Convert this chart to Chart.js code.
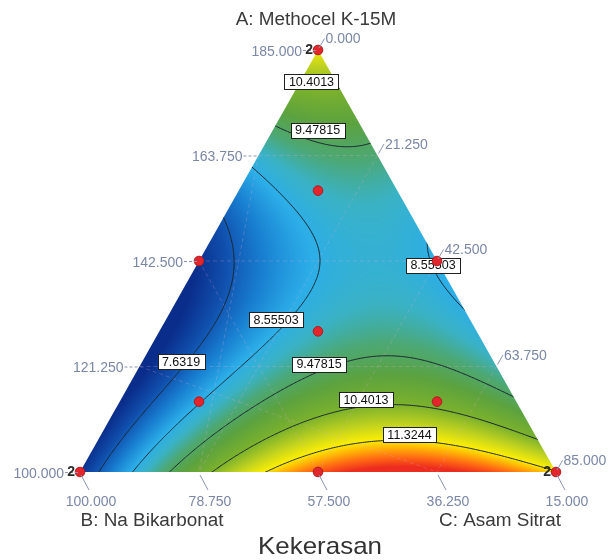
<!DOCTYPE html>
<html>
<head>
<meta charset="utf-8">
<script src="https://cdn.jsdelivr.net/npm/chart.js@4.4.1/dist/chart.umd.min.js"></script>
<style>
  html, body { margin: 0; padding: 0; background: #fff; }
  #wrap { width: 610px; height: 560px; }
</style>
</head>
<body>
<div id="wrap"><canvas id="chart" width="610" height="560"></canvas></div>
<script>
// Kekerasan, mixture of A + B + C = 200
const levels = [7.6319, 8.55503, 9.47815, 10.4013, 11.3244];

const designA = [185, 100, 100, 142.5, 142.5, 100, 128.33, 156.67, 114.17, 114.17];
const designB = [15, 100, 15, 57.5, 15, 57.5, 43.33, 29.17, 71.67, 29.17];
const designC = [0, 0, 85, 0, 42.5, 42.5, 28.33, 14.17, 14.17, 56.67];
const replicates = [2, 2, 2, 1, 1, 1, 1, 1, 1, 1];

const ticksA = [100, 121.25, 142.5, 163.75, 185];
const ticksB = [100, 78.75, 57.5, 36.25, 15];
const ticksC = [0, 21.25, 42.5, 63.75, 85];

// contour crossings, [A, C] (B = 200 - A - C)
const trace7632 = [[152.8, 0], [144.7, 3.7], [136.7, 7.6], [131.2, 9.7], [124.6, 9.1], [118.5, 7.7], [113.5, 6.6], [105.4, 5.3], [100, 4.5]];
const trace8555 = [[160.4, 0.1], [154.2, 10.4], [147.7, 18.6], [143.7, 21.5], [138.7, 22.6], [132.6, 22.4], [128.6, 20.5], [121.6, 17.8], [113.7, 14.2], [106.4, 11.1], [100, 8.0], [147.3, 37.7], [135.2, 49.8]];
const trace9478 = [[169.5, 0.1], [168.3, 5.1], [166.9, 9.9], [166.3, 15.1], [165.7, 19.3], [100, 16.1], [104.4, 17.4], [110.5, 21.5], [115.5, 26.2], [119.5, 29.5], [122.2, 36.2], [123.2, 42.0], [122.2, 49.6], [119.9, 57.9], [115.9, 69.1]];
const trace10401 = [[176.9, 0.1], [176.3, 4.7], [176.1, 8.7], [100, 23.2], [105.8, 31.0], [111.9, 38.7], [112.9, 45.3], [113.5, 54.0], [111.5, 62.1], [109.1, 70.5], [105.8, 79.2]];
const trace11324 = [[100, 33.4], [102.0, 38.3], [103.8, 42.7], [106.0, 51.1], [105.8, 59.6], [105.0, 65.3], [103.4, 73.3], [101.8, 79.4], [100.6, 83.3]];

// spot readings from the colour scale
const spotA = [185, 100, 100, 142.5, 121.25, 100, 100, 100, 142.5, 128.33, 156.67, 114.17, 130.6, 148.7];
const spotC = [0, 0, 85, 0, 0, 42.5, 55, 70, 42.5, 28.33, 14.17, 56.67, 4.3, 31.0];
const spotY = [11.1, 7.15, 11.4, 7.0, 7.05, 12.15, 12.35, 12.15, 8.5, 9.0, 8.85, 10.35, 7.1, 8.7];

// where the boxed level labels sit (chart units)
const labelSpots = [
    [10.4013, 0.4863, 0.9254],
    [9.47815, 0.499, 0.8104],
    [8.55503, 0.7416, 0.4905],
    [8.55503, 0.4118, 0.3602],
    [7.6319, 0.2122, 0.2618],
    [9.47815, 0.5021, 0.2559],
    [10.4013, 0.6008, 0.1718],
    [11.3244, 0.6922, 0.0889]
];

function pseudo(A, C) {
    const a = (A - 100) / 85;
    const c = C / 85;
    return { a: a, b: 1 - a - c, c: c };
}

function toXY(a, c) {
    return { x: c + a / 2, y: a };
}

function terms(a, b, c) {
    return [a, b, c, a * b, a * c, b * c,
        a * b * (a - b), a * c * (a - c), b * c * (b - c),
        a * b * (a - b) * (a - b), a * c * (a - c) * (a - c), b * c * (b - c) * (b - c),
        a * a * b * c, a * b * b * c, a * b * c * c];
}

function fit(rows, ys) {
    const n = rows[0].length;
    const M = Array.from({ length: n }, () => new Array(n + 1).fill(0));
    rows.forEach((r, k) => {
        for (let i = 0; i < n; i++) {
            for (let j = 0; j < n; j++) M[i][j] += r[i] * r[j];
            M[i][n] += r[i] * ys[k];
        }
    });
    for (let i = 0; i < n; i++) M[i][i] += 1e-7;
    for (let i = 0; i < n; i++) {
        let p = i;
        for (let k = i + 1; k < n; k++) if (Math.abs(M[k][i]) > Math.abs(M[p][i])) p = k;
        [M[i], M[p]] = [M[p], M[i]];
        for (let k = 0; k < n; k++) {
            if (k === i) continue;
            const f = M[k][i] / M[i][i];
            for (let j = i; j <= n; j++) M[k][j] -= f * M[i][j];
        }
    }
    return M.map((row, i) => row[n] / row[i]);
}

const rows = [];
const ys = [];
function addTrace(trace, level) {
    trace.forEach(([A, C]) => {
        const p = pseudo(A, C);
        rows.push(terms(p.a, p.b, p.c));
        ys.push(level);
    });
}
addTrace(trace7632, levels[0]);
addTrace(trace8555, levels[1]);
addTrace(trace9478, levels[2]);
addTrace(trace10401, levels[3]);
addTrace(trace11324, levels[4]);
spotA.forEach((A, i) => {
    const p = pseudo(A, spotC[i]);
    rows.push(terms(p.a, p.b, p.c));
    ys.push(spotY[i]);
});
const coef = fit(rows, ys);

function model(a, b, c) {
    const t = terms(a, b, c);
    let v = 0;
    for (let i = 0; i < t.length; i++) v += coef[i] * t[i];
    return v;
}

const stops = [
    [7.0, [10, 44, 138]],
    [7.5, [16, 78, 172]],
    [8.0, [24, 126, 208]],
    [8.5, [44, 174, 232]],
    [8.9, [58, 178, 196]],
    [9.3, [76, 168, 116]],
    [9.8, [92, 162, 62]],
    [10.4, [124, 178, 44]],
    [10.9, [196, 212, 30]],
    [11.3, [252, 238, 4]],
    [11.55, [255, 178, 6]],
    [11.85, [255, 104, 20]],
    [12.15, [236, 44, 30]]
];

function colour(v) {
    if (v <= stops[0][0]) return stops[0][1];
    for (let i = 1; i < stops.length; i++) {
        if (v <= stops[i][0]) {
            const [v0, c0] = stops[i - 1];
            const [v1, c1] = stops[i];
            const t = (v - v0) / (v1 - v0);
            return [c0[0] + t * (c1[0] - c0[0]), c0[1] + t * (c1[1] - c0[1]), c0[2] + t * (c1[2] - c0[2])];
        }
    }
    return stops[stops.length - 1][1];
}

function text(ctx, str, x, y, font, color, align, sx) {
    ctx.save();
    ctx.translate(x, y);
    ctx.scale(sx || 1, 1);
    ctx.font = font;
    ctx.fillStyle = color;
    ctx.textAlign = align;
    ctx.textBaseline = "middle";
    ctx.fillText(str, 0, 0);
    ctx.restore();
}

function pix(chart, a, c) {
    const p = toXY(a, c);
    return { x: chart.scales.x.getPixelForValue(p.x), y: chart.scales.y.getPixelForValue(p.y) };
}

function trianglePath(chart, ctx) {
    const top = pix(chart, 1, 0), left = pix(chart, 0, 0), right = pix(chart, 0, 1);
    ctx.beginPath();
    ctx.moveTo(top.x, top.y);
    ctx.lineTo(left.x, left.y);
    ctx.lineTo(right.x, right.y);
    ctx.closePath();
}

const ternaryPlugin = {
    id: "ternary",
    beforeDatasetsDraw(chart) {
        const { ctx, chartArea: area, scales: { x, y } } = chart;
        const left = Math.floor(area.left) - 1, top = Math.floor(area.top) - 1;
        const w = Math.ceil(area.right) - left + 2, h = Math.ceil(area.bottom) - top + 2;

        // colour surface
        const off = document.createElement("canvas");
        off.width = w;
        off.height = h;
        const octx = off.getContext("2d");
        const img = octx.createImageData(w, h);
        for (let j = 0; j < h; j++) {
            const a = y.getValueForPixel(top + j + 0.5);
            for (let i = 0; i < w; i++) {
                const c = x.getValueForPixel(left + i + 0.5) - a / 2;
                const b = 1 - a - c;
                if (a < -0.01 || b < -0.01 || c < -0.01) continue;
                const col = colour(model(a, b, c));
                const k = (j * w + i) * 4;
                img.data[k] = col[0];
                img.data[k + 1] = col[1];
                img.data[k + 2] = col[2];
                img.data[k + 3] = 255;
            }
        }
        octx.putImageData(img, 0, 0);
        ctx.save();
        trianglePath(chart, ctx);
        ctx.clip();
        ctx.drawImage(off, left, top);

        // faint grid
        ctx.strokeStyle = "rgba(236, 170, 215, 0.25)";
        ctx.lineWidth = 1;
        ctx.setLineDash([4, 3]);
        [0.25, 0.5, 0.75].forEach(f => {
            let p = pix(chart, f, 0), q = pix(chart, f, 1 - f);
            ctx.beginPath(); ctx.moveTo(p.x, p.y); ctx.lineTo(q.x, q.y); ctx.stroke();
            p = pix(chart, 1 - f, 0); q = pix(chart, 0, f);
            ctx.beginPath(); ctx.moveTo(p.x, p.y); ctx.lineTo(q.x, q.y); ctx.stroke();
            p = pix(chart, 1 - f, f); q = pix(chart, 0, f);
            ctx.beginPath(); ctx.moveTo(p.x, p.y); ctx.lineTo(q.x, q.y); ctx.stroke();
        });
        ctx.setLineDash([]);

        // contour lines (marching triangles on a 2px grid)
        const step = 2;
        const nx = Math.ceil(w / step) + 1, ny = Math.ceil(h / step) + 1;
        const grid = [];
        for (let j = 0; j < ny; j++) {
            const row = [];
            const py = top + j * step;
            const a = y.getValueForPixel(py);
            for (let i = 0; i < nx; i++) {
                const px = left + i * step;
                const c = x.getValueForPixel(px) - a / 2;
                row.push([px, py, model(a, 1 - a - c, c)]);
            }
            grid.push(row);
        }
        ctx.strokeStyle = "#1c2833";
        ctx.lineWidth = 1;
        ctx.beginPath();
        const tri = (P, L) => {
            const pts = [];
            for (let k = 0; k < 3; k++) {
                const p = P[k], q = P[(k + 1) % 3];
                if ((p[2] < L) !== (q[2] < L)) {
                    const t = (L - p[2]) / (q[2] - p[2]);
                    pts.push([p[0] + t * (q[0] - p[0]), p[1] + t * (q[1] - p[1])]);
                }
            }
            if (pts.length === 2) {
                ctx.moveTo(pts[0][0], pts[0][1]);
                ctx.lineTo(pts[1][0], pts[1][1]);
            }
        };
        levels.forEach(L => {
            for (let j = 0; j < ny - 1; j++) {
                for (let i = 0; i < nx - 1; i++) {
                    const p00 = grid[j][i], p10 = grid[j][i + 1], p01 = grid[j + 1][i], p11 = grid[j + 1][i + 1];
                    tri([p00, p10, p11], L);
                    tri([p00, p11, p01], L);
                }
            }
        });
        ctx.stroke();
        ctx.restore();

        // level labels
        ctx.save();
        ctx.font = "12.5px 'Liberation Sans', Arial, sans-serif";
        labelSpots.forEach(([L, X, Y]) => {
            const px = x.getPixelForValue(X), py = y.getPixelForValue(Y);
            const s = String(L);
            const tw = ctx.measureText(s).width;
            const bw = Math.round(tw + 9), bh = 15;
            const bx = Math.round(px - bw / 2) + 0.5, by = Math.round(py - bh / 2) + 0.5;
            ctx.fillStyle = "#ffffff";
            ctx.fillRect(bx, by, bw, bh);
            ctx.strokeStyle = "#202020";
            ctx.lineWidth = 1;
            ctx.strokeRect(bx, by, bw, bh);
            ctx.fillStyle = "#111";
            ctx.textAlign = "center";
            ctx.textBaseline = "middle";
            ctx.fillText(s, px, py + 1);
        });
        ctx.restore();
    },
    afterDatasetsDraw(chart) {
        const ctx = chart.ctx;
        const tickColor = "#7b87a6";
        const tickFont = "14px 'Liberation Sans', Arial, sans-serif";
        ctx.save();
        ctx.strokeStyle = "#8b95b2";
        ctx.lineWidth = 1;

        // A ticks on the left edge
        ticksA.forEach(A => {
            const p = pix(chart, pseudo(A, 0).a, 0);
            ctx.setLineDash([3, 2]);
            ctx.beginPath(); ctx.moveTo(p.x - 15, p.y + 0.5); ctx.lineTo(p.x - 2, p.y + 0.5); ctx.stroke();
            ctx.setLineDash([]);
            text(ctx, A.toFixed(3), p.x - 16, p.y + 2, tickFont, tickColor, "right");
        });
        // C ticks on the right edge
        ticksC.forEach(C => {
            const q = pseudo(200 - 15 - C, C);
            const p = pix(chart, q.a, q.c);
            const ex = p.x + 6.5, ey = p.y - 11.5;
            ctx.beginPath(); ctx.moveTo(p.x + 1, p.y - 2); ctx.lineTo(ex, ey); ctx.stroke();
            text(ctx, C.toFixed(3), ex + 1, ey + 1, tickFont, tickColor, "left");
        });
        // B ticks on the bottom edge
        ticksB.forEach(B => {
            const c = 1 - (B - 15) / 85;
            const p = pix(chart, 0, c);
            ctx.beginPath(); ctx.moveTo(p.x + 1, p.y + 3); ctx.lineTo(p.x + 9, p.y + 18); ctx.stroke();
            text(ctx, B.toFixed(3), p.x + 11, p.y + 30, tickFont, tickColor, "center");
        });

        // replicate counts
        designA.forEach((A, i) => {
            if (replicates[i] < 2) return;
            const q = pseudo(A, designC[i]);
            const p = pix(chart, q.a, q.c);
            text(ctx, String(replicates[i]), p.x - 5, p.y, "bold 14px 'Liberation Sans', Arial, sans-serif", "#2a2a2a", "right");
        });

        // axis names and title
        const titleFont = "18px 'Liberation Sans', Arial, sans-serif";
        text(ctx, "A: Methocel K-15M", 316, 20, titleFont, "#3a3a3a", "center", 1.05);
        text(ctx, "B: Na Bikarbonat", 152, 521, titleFont, "#3a3a3a", "center", 1.05);
        text(ctx, "C: Asam Sitrat", 500, 521, titleFont, "#3a3a3a", "center", 1.05);
        text(ctx, "Kekerasan", 320, 547, "24px 'Liberation Sans', Arial, sans-serif", "#333333", "center", 1.08);
        ctx.restore();
    }
};

const designPoints = designA.map((A, i) => {
    const p = pseudo(A, designC[i]);
    return toXY(p.a, p.c);
});

new Chart(document.getElementById("chart"), {
    type: "scatter",
    data: {
        datasets: [{
            label: "Design points",
            data: designPoints,
            clip: false,
            pointRadius: 4.8,
            pointHoverRadius: 4.8,
            pointBackgroundColor: "#e2262b",
            pointBorderColor: "#b01a1f",
            pointBorderWidth: 1
        }]
    },
    options: {
        responsive: false,
        maintainAspectRatio: false,
        animation: false,
        events: [],
        layout: { padding: { left: 80, right: 54, top: 50, bottom: 88 } },
        scales: {
            x: { type: "linear", min: 0, max: 1, display: false },
            y: { type: "linear", min: 0, max: 1, display: false }
        },
        plugins: {
            legend: { display: false },
            tooltip: { enabled: false }
        }
    },
    plugins: [ternaryPlugin]
});
</script>
</body>
</html>
